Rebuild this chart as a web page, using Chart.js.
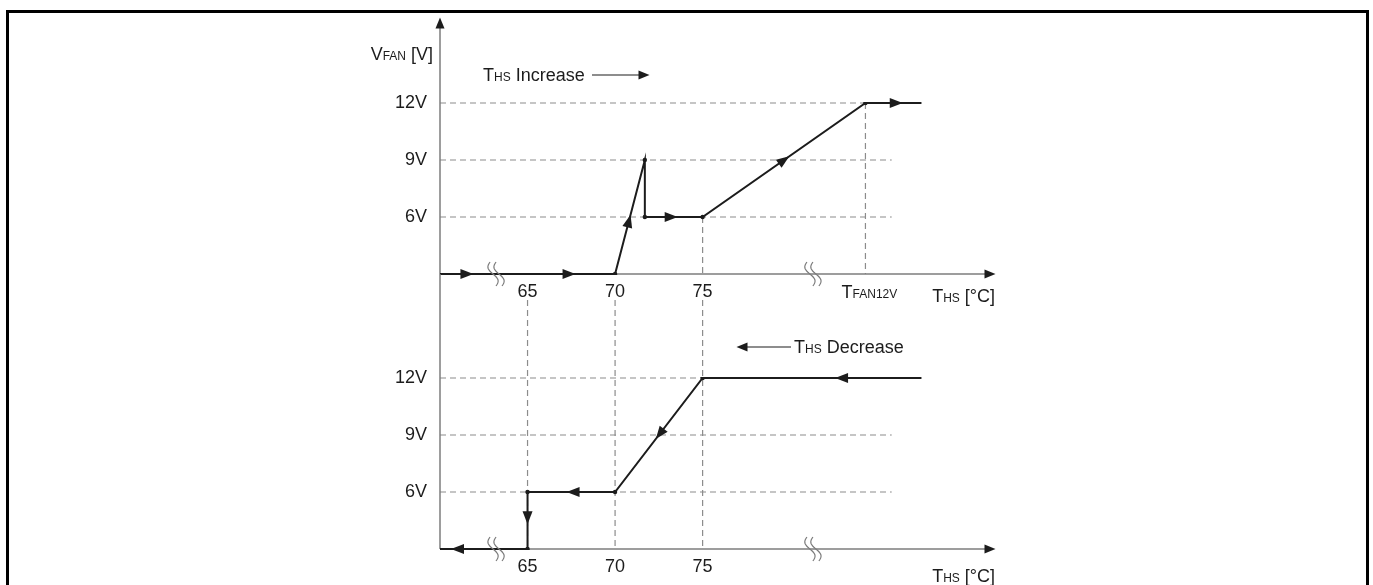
<!DOCTYPE html>
<html lang="en">
<head>
<meta charset="utf-8">
<title>Fan voltage vs heatsink temperature</title>
<script src="https://cdn.jsdelivr.net/npm/chart.js@4"></script>
<style>
  body { margin: 0; background: #fff; }
  #wrap { position: relative; width: 1373px; height: 585px; overflow: hidden; }
  #frame { position: absolute; left: 6px; top: 10px; width: 1363px; height: 620px; border: 3px solid #000; box-sizing: border-box; }
  canvas { position: absolute; left: 0; top: 0; }
</style>
</head>
<body>
<div id="wrap">
  <div id="frame"></div>
  <canvas id="up" width="1373" height="585"></canvas>
  <canvas id="down" width="1373" height="585"></canvas>
</div>
<script>
const FONT = "'Liberation Sans', Arial, sans-serif";
const INK = '#1c1c1c', AXIS = '#7c7c7c', GUIDE = '#8c8c8c';

// fan voltage levels, top to bottom (category axis)
const levels = ['12V', '9V', '6V', '0V'];
// heatsink temperature axis
const tMin = 60, tMax = 91.7;
const tempTicks = [65, 70, 75];
const tFan12V = 84.3;
const guideEnd = 85.8;
const breaks = [63.2, 81.3];

// T_HS increasing
const incTemp = [60, 70, 71.7, 71.7, 75, 84.3, 87.5];
const incVolt = ['0V', '0V', '9V', '6V', '6V', '12V', '12V'];
// T_HS decreasing
const decTemp = [87.5, 75, 70, 65, 65, 60];
const decVolt = ['12V', '12V', '6V', '6V', '0V', '0V'];

// direction arrows: [segment, fraction along it]
const incArrows = [[0, 0.154], [0, 0.737], [1, 0.465], [3, 0.456], [4, 0.5], [5, 0.55]];
const decArrows = [[0, 0.365], [1, 0.49], [2, 0.48], [3, 0.45], [4, 0.8]];

function rich(ctx, parts, x, y, align) {
  let w = 0;
  parts.forEach(([t, s]) => { ctx.font = s + 'px ' + FONT; w += ctx.measureText(t).width; });
  let cx = align === 'right' ? x - w : align === 'center' ? x - w / 2 : x;
  ctx.textAlign = 'left';
  ctx.textBaseline = 'alphabetic';
  ctx.fillStyle = INK;
  parts.forEach(([t, s]) => {
    ctx.font = s + 'px ' + FONT;
    ctx.fillText(t, cx, y);
    cx += ctx.measureText(t).width;
  });
}

function head(ctx, x, y, ang, len = 13, half = 5) {
  ctx.save();
  ctx.translate(x, y);
  ctx.rotate(ang);
  ctx.beginPath();
  ctx.moveTo(len / 2, 0);
  ctx.lineTo(-len / 2, -half);
  ctx.lineTo(-len / 2, half);
  ctx.closePath();
  ctx.fillStyle = INK;
  ctx.fill();
  ctx.restore();
}

function line(ctx, x1, y1, x2, y2, color, width, dash) {
  ctx.save();
  ctx.strokeStyle = color;
  ctx.lineWidth = width;
  ctx.setLineDash(dash || []);
  ctx.beginPath();
  ctx.moveTo(x1, y1);
  ctx.lineTo(x2, y2);
  ctx.stroke();
  ctx.restore();
}

// axis break mark: two wavy strokes across the axis
function squiggle(ctx, px, py) {
  ctx.save();
  ctx.strokeStyle = AXIS;
  ctx.lineWidth = 1.2;
  [-3, 3].forEach(dx => {
    ctx.beginPath();
    for (let k = 0; k <= 24; k++) {
      const t = k / 24;
      const xx = px + dx - 3 + 6 * t - 3.5 * Math.sin(2 * Math.PI * t);
      const yy = py - 12 + 24 * t;
      if (k === 0) ctx.moveTo(xx, yy); else ctx.lineTo(xx, yy);
    }
    ctx.stroke();
  });
  ctx.restore();
}

function pathArrows(chart, list) {
  const pts = chart.getDatasetMeta(0).data;
  list.forEach(([i, f]) => {
    const a = pts[i], b = pts[i + 1];
    head(chart.ctx, a.x + (b.x - a.x) * f, a.y + (b.y - a.y) * f, Math.atan2(b.y - a.y, b.x - a.x));
  });
}

function yPix(scale, lv) { return scale.getPixelForValue(levels.indexOf(lv)); }

function xAxis(chart) {
  const { ctx, chartArea: a } = chart;
  line(ctx, a.left, a.bottom, a.right - 6, a.bottom, AXIS, 1.5);
  head(ctx, a.right - 5, a.bottom, 0, 11, 4.5);
}

const upDeco = {
  id: 'upDeco',
  beforeDatasetsDraw(chart) {
    const { ctx, chartArea: a, scales: { x, y } } = chart;
    const dash = [6, 4];
    line(ctx, a.left, yPix(y, '12V'), x.getPixelForValue(tFan12V), yPix(y, '12V'), GUIDE, 1.2, dash);
    ['9V', '6V'].forEach(lv => line(ctx, a.left, yPix(y, lv), x.getPixelForValue(guideEnd), yPix(y, lv), GUIDE, 1.2, dash));
    line(ctx, x.getPixelForValue(75), yPix(y, '6V'), x.getPixelForValue(75), a.bottom, GUIDE, 1.2, dash);
    line(ctx, x.getPixelForValue(tFan12V), yPix(y, '12V'), x.getPixelForValue(tFan12V), a.bottom, GUIDE, 1.2, dash);
    line(ctx, a.left, a.top - 80, a.left, a.bottom, AXIS, 1.5);
    head(ctx, a.left, a.top - 80, -Math.PI / 2, 11, 4.5);
    xAxis(chart);
  },
  afterDatasetsDraw(chart) {
    const { ctx, chartArea: a, scales: { x } } = chart;
    pathArrows(chart, incArrows);
    breaks.forEach(b => squiggle(ctx, x.getPixelForValue(b), a.bottom));
    rich(ctx, [['V', 18], ['FAN', 12], [' [V]', 18]], a.left - 7, a.top - 43, 'right');
    rich(ctx, [['T', 18], ['HS', 12], [' Increase', 18]], a.left + 43, a.top - 22, 'left');
    line(ctx, a.left + 152, a.top - 28, a.left + 203, a.top - 28, INK, 1.2);
    head(ctx, a.left + 204, a.top - 28, 0, 11, 4.5);
    rich(ctx, [['T', 18], ['FAN12V', 12]], x.getPixelForValue(tFan12V) + 4, a.bottom + 24, 'center');
    rich(ctx, [['T', 18], ['HS', 12], [' [°C]', 18]], a.right, a.bottom + 28, 'right');
  }
};

let upChart;

const downDeco = {
  id: 'downDeco',
  beforeDatasetsDraw(chart) {
    const { ctx, chartArea: a, scales: { x, y } } = chart;
    const dash = [6, 4];
    line(ctx, a.left, yPix(y, '12V'), x.getPixelForValue(75), yPix(y, '12V'), GUIDE, 1.2, dash);
    ['9V', '6V'].forEach(lv => line(ctx, a.left, yPix(y, lv), x.getPixelForValue(guideEnd), yPix(y, lv), GUIDE, 1.2, dash));
    tempTicks.forEach(t => line(ctx, x.getPixelForValue(t), a.top - 78, x.getPixelForValue(t), a.bottom, GUIDE, 1.2, dash));
    line(ctx, a.left, upChart.chartArea.bottom, a.left, a.bottom, AXIS, 1.5);
    xAxis(chart);
  },
  afterDatasetsDraw(chart) {
    const { ctx, chartArea: a, scales: { x } } = chart;
    pathArrows(chart, decArrows);
    breaks.forEach(b => squiggle(ctx, x.getPixelForValue(b), a.bottom));
    line(ctx, a.left + 302, a.top - 31, a.left + 351, a.top - 31, INK, 1.2);
    head(ctx, a.left + 302, a.top - 31, Math.PI, 11, 4.5);
    rich(ctx, [['T', 18], ['HS', 12], [' Decrease', 18]], a.left + 354, a.top - 25, 'left');
    rich(ctx, [['T', 18], ['HS', 12], [' [°C]', 18]], a.right, a.bottom + 33, 'right');
  }
};

function makeChart(id, temps, volts, padding, xH, deco) {
  return new Chart(document.getElementById(id), {
    type: 'line',
    data: {
      datasets: [{
        data: temps.map((t, i) => ({ x: t, y: volts[i] })),
        borderColor: INK,
        borderWidth: 2,
        tension: 0,
        fill: false,
        pointRadius: c => (c.dataIndex === 0 || c.dataIndex === temps.length - 1) ? 0 : 2.2,
        pointBackgroundColor: INK,
        pointBorderWidth: 0
      }]
    },
    options: {
      responsive: false,
      animation: false,
      events: [],
      layout: { padding: padding },
      plugins: { legend: { display: false }, tooltip: { enabled: false } },
      scales: {
        x: {
          type: 'linear', min: tMin, max: tMax,
          grid: { display: false, drawTicks: false }, border: { display: false },
          afterBuildTicks: s => { s.ticks = tempTicks.map(v => ({ value: v })); },
          afterFit: s => { s.height = xH; },
          ticks: { font: { family: FONT, size: 18 }, color: INK, padding: 7, maxRotation: 0, autoSkip: false }
        },
        y: {
          type: 'category', labels: levels,
          grid: { display: false, drawTicks: false }, border: { display: false },
          afterFit: s => { s.width = 60; },
          ticks: {
            font: { family: FONT, size: 18 }, color: INK, padding: 13,
            callback: function (v) { const l = this.getLabelForValue(v); return l === '0V' ? '' : l; }
          }
        }
      }
    },
    plugins: [deco]
  });
}

upChart = makeChart('up', incTemp, incVolt, { left: 380, right: 378, top: 103, bottom: 271 }, 40, upDeco);
makeChart('down', decTemp, decVolt, { left: 380, right: 378, top: 378, bottom: 6 }, 30, downDeco);
</script>
</body>
</html>
